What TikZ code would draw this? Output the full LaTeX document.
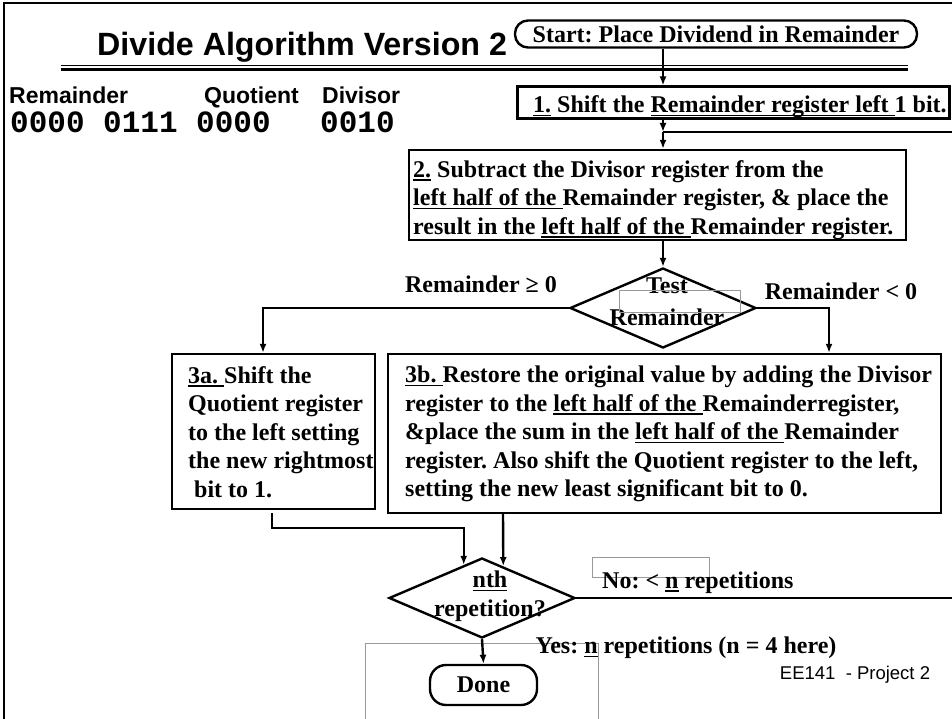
\documentclass[tikz,border=0pt]{standalone}
\usepackage{fontspec}
\setmainfont{Liberation Serif}
\newfontfamily\arial{Liberation Sans}
\newfontfamily\cour{Liberation Mono}
\usetikzlibrary{shapes.geometric,arrows.meta,calc}
\frenchspacing
\newsavebox{\myulbox}
\newcommand{\myul}[1]{\sbox{\myulbox}{#1}\rlap{\rule[-3.5pt]{\wd\myulbox}{1.5pt}}\usebox{\myulbox}}
\tikzset{
  ln/.style={line width=2.4pt},
  arr/.style={line width=2.4pt,-{Latex[length=9pt,width=7pt]}},
  box/.style={draw,line width=2.4pt,inner sep=0pt},
  dia/.style={draw,diamond,line width=2.4pt,inner sep=0pt,minimum width=186pt,minimum height=80pt},
  stad/.style={draw,rectangle,rounded corners=13pt,line width=2.4pt,inner sep=0pt},
  tx/.style={inner sep=0pt,font=\fontsize{24}{28.5}\selectfont\bfseries,align=left},
  hd/.style={inner sep=0pt,font=\fontsize{23}{23}\arial\bfseries,anchor=base west},
  num/.style={inner sep=0pt,font=\fontsize{31}{31}\cour\bfseries,anchor=base west},
  thinbox/.style={draw=gray!80,line width=0.8pt},
}
\begin{document}
\begin{tikzpicture}[x=1pt,y=-1pt]
\useasboundingbox (0,0) rectangle (952,719);
% frame
\draw[line width=2pt] (4,730) -- (4,3) -- (960,3);
% title
\node[inner sep=0pt,font=\fontsize{32.2}{32.2}\arial\bfseries,anchor=base west] (title) at (97,56) {Divide Algorithm Version 2};
\draw[line width=1pt] (61,66) -- (908,66);
\draw[line width=3pt] (61,70) -- (908,70);
% registers
\node[hd] (hrem) at (9,104) {Remainder};
\node[hd] (hquo) at (204,104) {Quotient};
\node[hd] (hdiv) at (322,104) {Divisor};
\node[num] (nrq) at (10,133) {0000 0111 0000};
\node[num] (ndv) at (320,133) {0010};
% flow
\coordinate (fx) at (663,0);
\node[stad,minimum width=402pt,minimum height=27pt,font=\fontsize{24}{24}\selectfont\bfseries] (start) at (716,34) {Start: Place Dividend in Remainder};
\node[box,line width=3pt,minimum width=432pt,minimum height=32pt] (s1) at (733,103) {};
\node[tx,anchor=base west] (s1t) at (533,113) {\myul{1.} Shift the \myul{Remainder register left }1 bit.};
\coordinate (j1) at (663,132);
\node[box,minimum width=497pt,minimum height=90pt] (s2) at (657.5,195) {};
\node[tx,anchor=north west] (s2t) at (413,160) {\myul{2.} Subtract the Divisor register from the\\
\myul{left half of the }Remainder register, \& place the\\
result in the \myul{left half of the }Remainder register.};
\node[dia] (tst) at (663,308) {};
\node[tx,align=center,font=\fontsize{24}{32}\selectfont\bfseries] (tstt) at (667,302) {Test\\Remainder};
\draw[thinbox] (619,290) rectangle (740,312);
\node[tx] (lge) at (481,284) {Remainder ≥ 0};
\node[tx] (llt) at (841,291) {Remainder < 0};
\node[box,minimum width=203pt,minimum height=155pt] (s3a) at (273.5,431.5) {};
\node[tx,anchor=north west] (s3at) at (188,366) {\myul{3a. }Shift the\\
Quotient register\\
to the left setting\\
the new rightmost\\
\hspace{6pt}bit to 1.};
\node[box,minimum width=553pt,minimum height=159pt] (s3b) at (664.5,433.5) {};
\node[tx,anchor=north west] (s3bt) at (405,366) {\myul{3b. }Restore the original value by adding the Divisor\\
register to the \myul{left half of the }Remainderregister,\\
\&place the sum in the \myul{left half of the }Remainder\\
register. Also shift the Quotient register to the left,\\
setting the new least significant bit to 0.};
\node[dia] (nth) at (482,598) {};
\node[tx,align=center] (ntht) at (490,596) {\myul{nth}\\repetition?};
\draw[thinbox] (592,557) rectangle (709,577);
\node[tx,anchor=base west] (lno) at (602,588) {No: < \myul{n} repetitions};
\node[stad,rounded corners=16pt,minimum width=107pt,minimum height=40pt,font=\fontsize{24}{24}\selectfont\bfseries] (done) at (483.5,685) {Done};
\draw[thinbox] (365,730) -- (365,643) -- (598,643) -- (598,730);
\node[tx] (lyes) at (686,648) {Yes: \myul{n} repetitions (n = 4 here)};
\node[inner sep=0pt,font=\fontsize{18.5}{18.5}\arial] (foot) at (855,675) {EE141~~- Project 2};
\coordinate (rt) at (965,598);
% connectors
\draw[arr] (start.south -| fx) -- (s1.north -| fx);
\draw[arr] (s1.south -| fx) -- (j1);
\draw[arr] (j1) -- (s2.north -| fx);
\draw[arr] (s2.south -| fx) -- (tst.north);
\draw[arr] (tst.west) -| ($(s3a.north)+(-10.5,0)$);
\draw[arr] (tst.east) -| ($(s3b.north)+(164.5,0)$);
\draw[arr] ($(s3a.south)+(-1.5,3)$) -- ++(0,15) -| ($(nth.north)!0.194!(nth.west)$);
\draw[arr] ($(s3b.south)+(-161.5,0)$) -- ($(nth.north)!0.226!(nth.east)$);
\draw[arr] (nth.south) -- (done.north);
\draw[ln] (nth.east) -- (rt) |- (j1);
\end{tikzpicture}
\end{document}
